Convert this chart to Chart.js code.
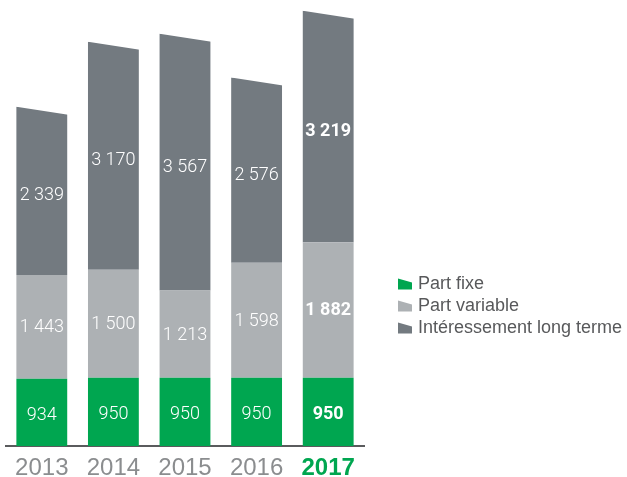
<!DOCTYPE html>
<html><head><meta charset="utf-8">
<script src="https://cdn.jsdelivr.net/npm/chart.js@4.4.0/dist/chart.umd.min.js"></script>
<style>html,body{margin:0;padding:0;background:#fff}#wrap{width:627px;height:477px;position:relative}</style>
</head><body><div id="wrap"><canvas id="c"></canvas></div>
<script>
// Rémunération par année, en milliers
const annees=['2013','2014','2015','2016','2017'];
const partFixe=[934,950,950,950,950];
const partVariable=[1443,1500,1213,1598,1882];
const interessement=[2339,3170,3567,2576,3219];
const series=['Part fixe','Part variable','Intéressement long terme'];
const COUL=['#00a650','#adb1b4','#737a80'];
const GRIS_TXT='#8b8d8f';
const PENTE=8;          // chute du bord supérieur des barres (px)
const POLICE='Roboto';

const fmt=n=>String(n).replace(/\B(?=(\d{3})+(?!\d))/g,' ');
const derniere=annees.length-1;

// bord haut biseauté sur la dernière série
const biseau={id:'biseau',
  afterDatasetDraw(chart,args){
    if(args.index!==2)return;
    const ctx=chart.ctx;
    ctx.save();ctx.fillStyle='#fff';
    args.meta.data.forEach(b=>{
      const l=b.x-b.width/2,r=b.x+b.width/2;
      ctx.beginPath();
      ctx.moveTo(l,b.y);ctx.lineTo(r+1,b.y+PENTE);ctx.lineTo(r+1,b.y-2);ctx.lineTo(l,b.y-2);
      ctx.closePath();ctx.fill();
    });
    ctx.restore();
  }};

// valeurs dans les segments
const valeurs={id:'valeurs',
  afterDatasetsDraw(chart){
    const ctx=chart.ctx;
    ctx.save();ctx.fillStyle='#fff';ctx.textAlign='center';ctx.textBaseline='middle';
    chart.data.datasets.forEach((ds,di)=>{
      chart.getDatasetMeta(di).data.forEach((b,i)=>{
        const gras=i===derniere;
        ctx.font=(gras?'bold ':'300 ')+'18px '+POLICE;
        let y=(b.y+b.base)/2;
        if(di===2)y+=PENTE/2;
        if(di===0)y+=2;
        ctx.fillText(fmt(ds.data[i]),b.x,y+1);
      });
    });
    ctx.restore();
  }};

// légende à droite
const legende={id:'legende',
  afterDraw(chart){
    const ctx=chart.ctx,x=398,y0=284,pas=22,w=14,h=11;
    ctx.save();ctx.textBaseline='middle';ctx.font='18px Liberation Sans';
    series.forEach((s,i)=>{
      const y=y0+i*pas;
      ctx.fillStyle=COUL[i];
      ctx.beginPath();
      ctx.moveTo(x,y-h/2);ctx.lineTo(x+w,y-h/2+4);ctx.lineTo(x+w,y+h/2);ctx.lineTo(x,y+h/2);
      ctx.closePath();ctx.fill();
      ctx.fillStyle='#58595b';
      ctx.fillText(s,x+20,y);
    });
    ctx.restore();
  }};

new Chart(document.getElementById('c'),{
  type:'bar',
  data:{labels:annees,datasets:[
    {label:series[0],data:partFixe,backgroundColor:COUL[0]},
    {label:series[1],data:partVariable,backgroundColor:COUL[1]},
    {label:series[2],data:interessement,backgroundColor:COUL[2]}
  ]},
  options:{
    responsive:true,maintainAspectRatio:false,animation:false,
    layout:{padding:{left:6,right:263,top:0,bottom:0}},
    plugins:{legend:{display:false},tooltip:{enabled:false}},
    datasets:{bar:{barPercentage:0.71,categoryPercentage:1,borderWidth:0}},
    scales:{
      x:{stacked:true,grid:{display:false},
        border:{display:true,color:'#5a5b5d',width:2},
        afterFit:s=>{s.height=31;},
        ticks:{padding:0,
          color:c=>c.index===derniere?COUL[0]:GRIS_TXT,
          font:c=>({family:'Liberation Sans',size:24,weight:c.index===derniere?'bold':'normal'})}},
      y:{stacked:true,display:false,min:0,max:6200}
    }
  },
  plugins:[biseau,valeurs,legende]
});
</script>
</body></html>
